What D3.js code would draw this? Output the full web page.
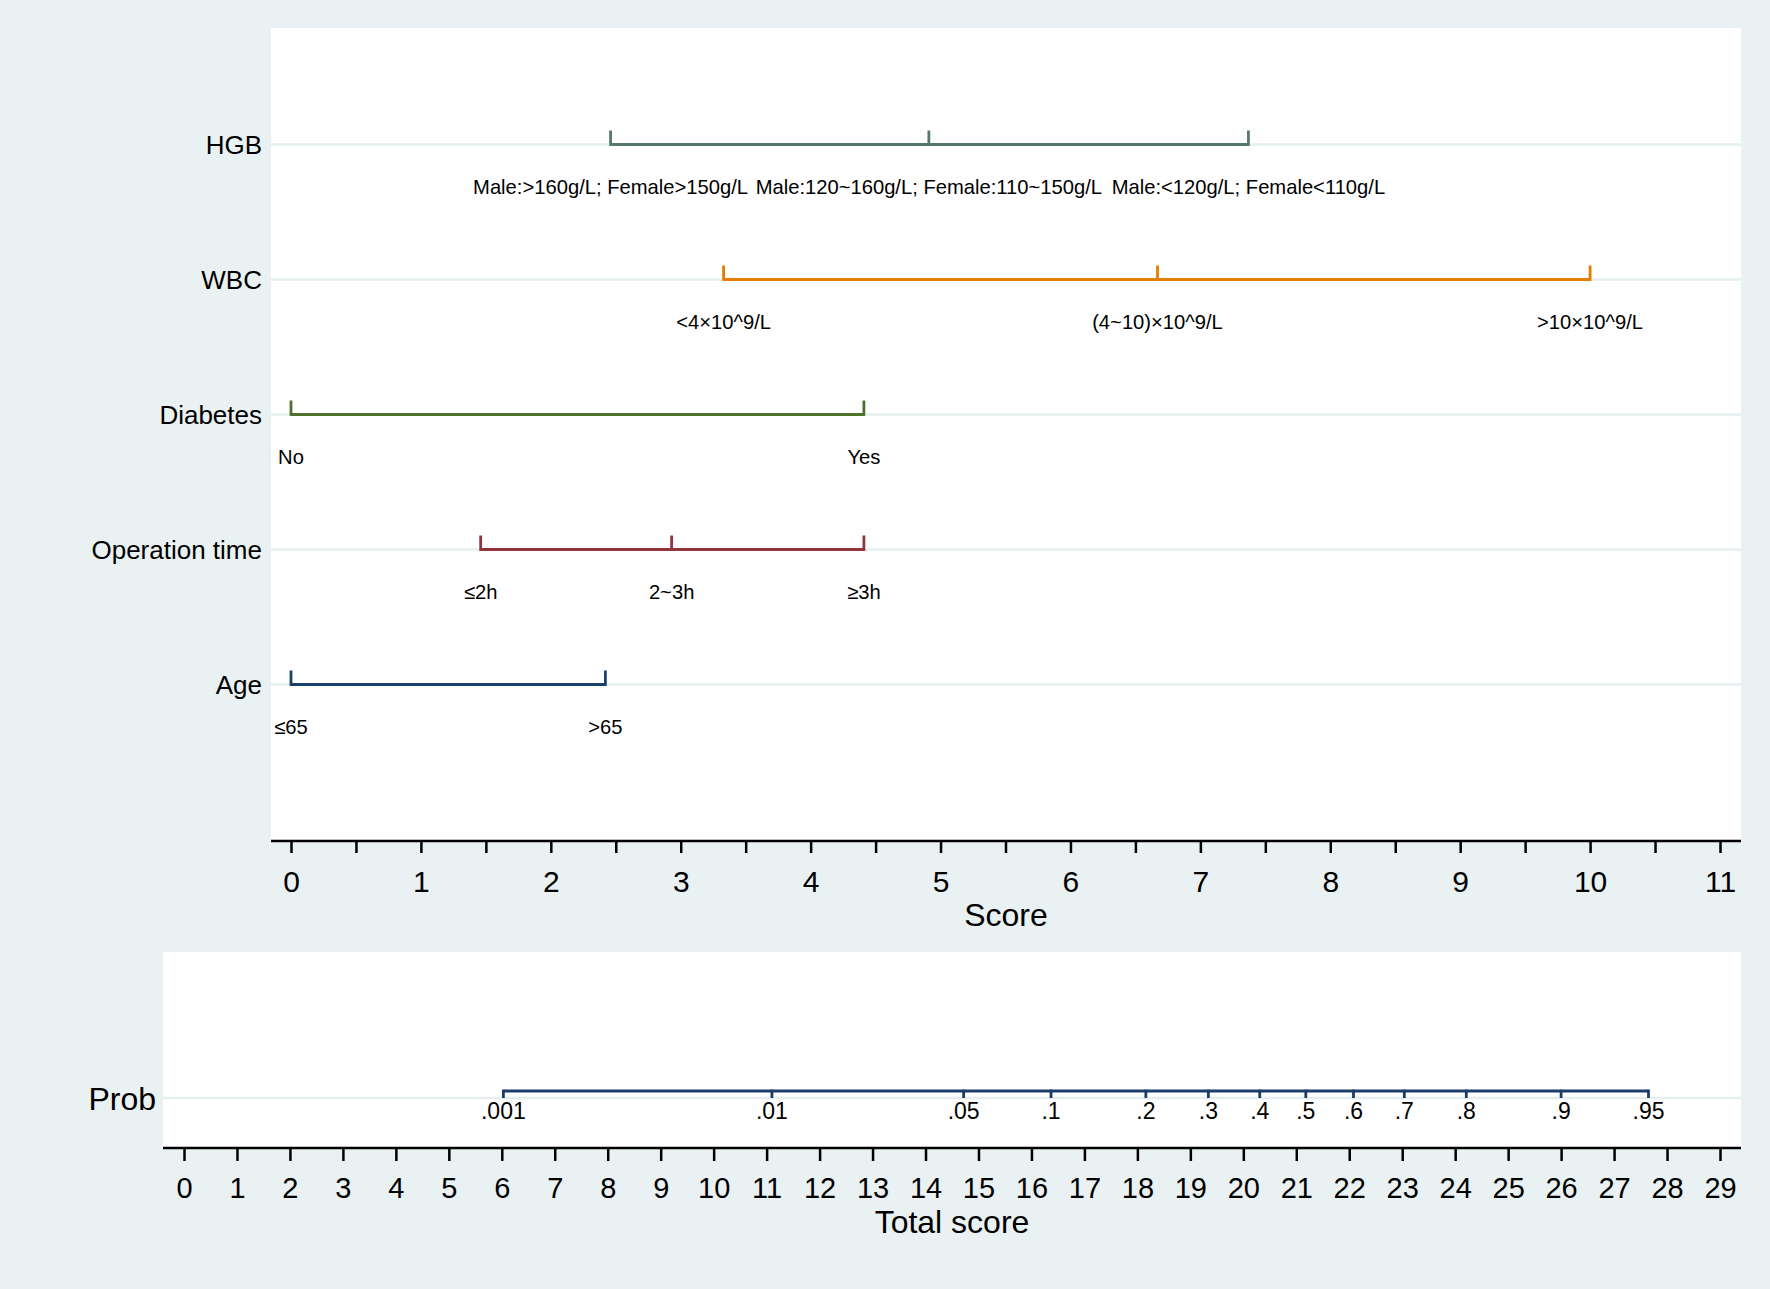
<!DOCTYPE html>
<html>
<head>
<meta charset="utf-8">
<script src="https://cdn.jsdelivr.net/npm/d3@7"></script>
<style>
  body { margin: 0; background: #eaf1f3; }
  svg text { font-family: "Liberation Sans", Arial, sans-serif; fill: #000; }
</style>
</head>
<body>
<div id="chart"></div>
<script>
// nomogram - points per predictor, total score and probability

// predictors, top to bottom
const variables = ['HGB', 'WBC', 'Diabetes', 'Operation time', 'Age'];

const hgbScores = [2.46, 4.91, 7.37];
const hgbLabels = ['Male:>160g/L; Female>150g/L', 'Male:120~160g/L; Female:110~150g/L', 'Male:<120g/L; Female<110g/L'];

const wbcScores = [3.33, 6.67, 10.0];
const wbcLabels = ['<4\u00d710^9/L', '(4~10)\u00d710^9/L', '>10\u00d710^9/L'];

const diabetesScores = [0, 4.41];
const diabetesLabels = ['No', 'Yes'];

const opTimeScores = [1.46, 2.93, 4.41];
const opTimeLabels = ['\u22642h', '2~3h', '\u22653h'];

const ageScores = [0, 2.42];
const ageLabels = ['\u226465', '>65'];

const varColors = ['#56796d', '#e37e00', '#4f722b', '#90353b', '#1a416d'];

// probability scale against total score
const probLabels = ['.001', '.01', '.05', '.1', '.2', '.3', '.4', '.5', '.6', '.7', '.8', '.9', '.95'];
const probScores = [6.03, 11.1, 14.72, 16.37, 18.16, 19.34, 20.31, 21.18, 22.08, 23.04, 24.21, 26.0, 27.65];

// axis ticks
const scoreTicks = d3.range(0, 11.5, 0.5);
const totalTicks = d3.range(0, 30, 1);

const rows = [
  {name: variables[0], scores: hgbScores, labels: hgbLabels},
  {name: variables[1], scores: wbcScores, labels: wbcLabels},
  {name: variables[2], scores: diabetesScores, labels: diabetesLabels},
  {name: variables[3], scores: opTimeScores, labels: opTimeLabels},
  {name: variables[4], scores: ageScores, labels: ageLabels}
];

const width = 1770, height = 1289;
const grid = '#e6eef0';

const svg = d3.select('#chart').append('svg')
    .attr('width', width)
    .attr('height', height);

svg.append('rect')
   .attr('width', width)
   .attr('height', height)
   .attr('fill', '#eaf1f3');

// ---- top panel: points ----
const pTop = {left: 271, right: 1741, top: 28, bottom: 841};

const x = d3.scaleLinear().domain([0, 11]).range([291, 1720]);
const y = d3.scalePoint().domain(variables).range([144.5, 684.5]);

svg.append('rect')
   .attr('x', pTop.left)
   .attr('y', pTop.top)
   .attr('width', pTop.right - pTop.left)
   .attr('height', pTop.bottom - pTop.top)
   .attr('fill', '#fff');

// grid lines
svg.append('g')
   .selectAll('line')
   .data(variables)
   .join('line')
     .attr('x1', pTop.left)
     .attr('x2', pTop.right)
     .attr('y1', d => y(d))
     .attr('y2', d => y(d))
     .attr('stroke', grid)
     .attr('stroke-width', 2.5);

// variable names
svg.append('g')
   .selectAll('text')
   .data(variables)
   .join('text')
     .attr('x', pTop.left - 9)
     .attr('y', d => y(d) + 9.5)
     .attr('text-anchor', 'end')
     .attr('font-size', 26)
     .text(d => d);

// point scales for each variable
rows.forEach((row, i) => {
  const yy = y(row.name);
  const g = svg.append('g');
  const ext = d3.extent(row.scores);
  g.append('line')
   .attr('x1', x(ext[0]))
   .attr('x2', x(ext[1]))
   .attr('y1', yy)
   .attr('y2', yy)
   .attr('stroke', varColors[i])
   .attr('stroke-width', 2.8);
  g.selectAll('line.tick')
   .data(row.scores)
   .join('line')
     .attr('class', 'tick')
     .attr('x1', d => x(d))
     .attr('x2', d => x(d))
     .attr('y1', yy + 1.4)
     .attr('y2', yy - 14)
     .attr('stroke', varColors[i])
     .attr('stroke-width', 2.8);
  g.selectAll('text')
   .data(row.scores)
   .join('text')
     .attr('x', d => x(d))
     .attr('y', yy + 49)
     .attr('text-anchor', 'middle')
     .attr('font-size', 20.2)
     .text((d, j) => row.labels[j]);
});

// score axis
svg.append('line')
   .attr('x1', pTop.left)
   .attr('x2', pTop.right)
   .attr('y1', pTop.bottom)
   .attr('y2', pTop.bottom)
   .attr('stroke', '#000')
   .attr('stroke-width', 2.5);

svg.append('g')
   .attr('transform', `translate(0,${pTop.bottom})`)
   .call(d3.axisBottom(x)
           .tickValues(scoreTicks)
           .tickSize(12)
           .tickFormat(d => Number.isInteger(d) ? d : ''))
   .call(g => g.select('.domain').remove())
   .call(g => g.selectAll('.tick line').attr('stroke', '#000').attr('stroke-width', 2.5))
   .call(g => g.selectAll('.tick text')
               .attr('y', 51)
               .attr('dy', 0)
               .attr('font-size', 30)
               .attr('font-family', '"Liberation Sans", Arial, sans-serif')
               .attr('fill', '#000'));

svg.append('text')
   .attr('x', (pTop.left + pTop.right) / 2)
   .attr('y', 926)
   .attr('text-anchor', 'middle')
   .attr('font-size', 32)
   .text('Score');

// ---- bottom panel: total score and probability ----
const pBot = {left: 163, right: 1741, top: 952, bottom: 1148};
const xt = d3.scaleLinear().domain([0, 29]).range([184, 1720]);
const probY = 1098;

svg.append('rect')
   .attr('x', pBot.left)
   .attr('y', pBot.top)
   .attr('width', pBot.right - pBot.left)
   .attr('height', pBot.bottom - pBot.top)
   .attr('fill', '#fff');

svg.append('line')
   .attr('x1', pBot.left)
   .attr('x2', pBot.right)
   .attr('y1', probY)
   .attr('y2', probY)
   .attr('stroke', grid)
   .attr('stroke-width', 2.5);

svg.append('text')
   .attr('x', pBot.left - 7)
   .attr('y', probY + 12)
   .attr('text-anchor', 'end')
   .attr('font-size', 32)
   .text('Prob');

const pg = svg.append('g');
pg.append('line')
  .attr('x1', xt(d3.min(probScores)))
  .attr('x2', xt(d3.max(probScores)))
  .attr('y1', probY - 7)
  .attr('y2', probY - 7)
  .attr('stroke', '#1a3d6c')
  .attr('stroke-width', 2.8);
pg.selectAll('line.tick')
  .data(probScores)
  .join('line')
    .attr('class', 'tick')
    .attr('x1', d => xt(d))
    .attr('x2', d => xt(d))
    .attr('y1', probY - 8.4)
    .attr('y2', probY)
    .attr('stroke', '#1a3d6c')
    .attr('stroke-width', 2.8);
pg.selectAll('text')
  .data(probScores)
  .join('text')
    .attr('x', d => xt(d))
    .attr('y', probY + 21)
    .attr('text-anchor', 'middle')
    .attr('font-size', 23)
    .text((d, i) => probLabels[i]);

// total score axis
svg.append('line')
   .attr('x1', pBot.left)
   .attr('x2', pBot.right)
   .attr('y1', pBot.bottom)
   .attr('y2', pBot.bottom)
   .attr('stroke', '#000')
   .attr('stroke-width', 2.5);

svg.append('g')
   .attr('transform', `translate(0,${pBot.bottom})`)
   .call(d3.axisBottom(xt)
           .tickValues(totalTicks)
           .tickSize(13)
           .tickFormat(d3.format('d')))
   .call(g => g.select('.domain').remove())
   .call(g => g.selectAll('.tick line').attr('stroke', '#000').attr('stroke-width', 2.5))
   .call(g => g.selectAll('.tick text')
               .attr('y', 50)
               .attr('dy', 0)
               .attr('font-size', 29)
               .attr('font-family', '"Liberation Sans", Arial, sans-serif')
               .attr('fill', '#000'));

svg.append('text')
   .attr('x', (pBot.left + pBot.right) / 2)
   .attr('y', 1233)
   .attr('text-anchor', 'middle')
   .attr('font-size', 32)
   .text('Total score');
</script>
</body>
</html>
